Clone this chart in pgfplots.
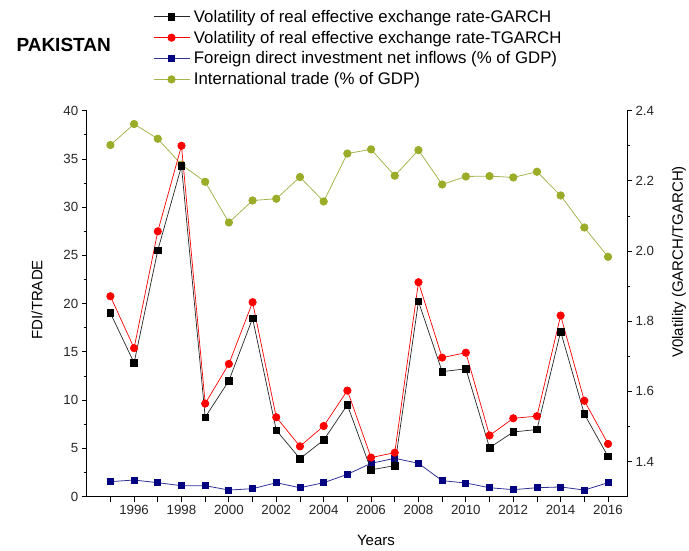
\documentclass[border=0pt]{standalone}
\usepackage{fontspec}
\setmainfont{Liberation Sans}
\usepackage{pgfplots}
\pgfplotsset{compat=1.18}
\definecolor{tgcol}{RGB}{255,0,0}
\definecolor{fdicol}{RGB}{0,0,128}
\definecolor{fdiline}{RGB}{50,50,150}
\definecolor{tradecol}{RGB}{154,172,40}
\definecolor{tradeline}{RGB}{165,182,80}
\begin{document}
\begin{tikzpicture}
\useasboundingbox (-86.7pt,-53.5pt) rectangle (602.3pt,496.5pt);
\pgfplotsset{
  common/.style={
    at={(0pt,0pt)}, anchor=south west,
    scale only axis, width=540.3pt, height=385.8pt,
    xmin=1994, xmax=2016.8,
    tick align=outside,
    major tick length=5pt, minor tick length=3pt,
    tick style={black, line width=0.8pt},
    axis line style={line width=1pt},
    ticklabel style={font=\fontsize{13.3}{15}\selectfont, text=black!85},
    /pgf/number format/assume math mode=true,
    label style={font=\fontsize{15}{18}\selectfont},
  }
}
\begin{axis}[common,
  axis x line*=bottom, axis y line*=left,
  ymin=0, ymax=40, ytick={0,5,...,40}, minor ytick={2.5,7.5,...,37.5},
  xtick={1995,...,2016},
  xticklabels={{},1996,{},1998,{},2000,{},2002,{},2004,{},2006,{},2008,{},2010,{},2012,{},2014,{},2016},
  xlabel={Years}, ylabel={FDI/TRADE},
  xlabel style={at={(axis description cs:0.5354,-0.1128)}, anchor=center},
  ylabel style={at={(axis description cs:-0.092,0.51)}, anchor=center},
]
\addplot[color=tradeline, line width=0.8pt, mark=*, mark size=3.7pt, mark options={fill=tradecol, draw=tradecol}] coordinates {
(1995,36.44) (1996,38.62) (1997,37.09) (1998,34.4) (1999,32.63) (2000,28.41) (2001,30.69) (2002,30.87) (2003,33.12) (2004,30.59) (2005,35.56) (2006,35.99) (2007,33.26) (2008,35.92) (2009,32.35) (2010,33.18) (2011,33.22) (2012,33.08) (2013,33.67) (2014,31.21) (2015,27.89) (2016,24.85)};
\addplot[color=fdiline, line width=0.8pt, mark=square*, mark size=3pt, mark options={fill=fdicol, draw=fdicol}] coordinates {
(1995,1.54) (1996,1.71) (1997,1.43) (1998,1.12) (1999,1.12) (2000,0.67) (2001,0.81) (2002,1.43) (2003,0.91) (2004,1.43) (2005,2.30) (2006,3.44) (2007,3.96) (2008,3.44) (2009,1.64) (2010,1.40) (2011,0.91) (2012,0.71) (2013,0.91) (2014,0.99) (2015,0.67) (2016,1.43)};
\end{axis}
\begin{axis}[common,
  axis x line=none, axis y line*=right,
  ymin=1.3, ymax=2.4, ytick={1.4,1.6,1.8,2.0,2.2,2.4}, minor ytick={1.5,1.7,1.9,2.1,2.3},
  yticklabel style={/pgf/number format/.cd, fixed, fixed zerofill, precision=1},
  ylabel={V0latility (GARCH/TGARCH)},
  ylabel style={at={(axis description cs:1.0962,0.608)}, anchor=center},
  legend style={at={(axis description cs:0.117,1.272)}, anchor=north west, draw=none, fill=none,
    font=\fontsize{16.8}{19}\selectfont, row sep=3.2pt, nodes={inner xsep=4pt}},
  legend cell align=left,
  legend image code/.code={\draw[mark repeat=2,mark phase=2] plot coordinates {(0pt,0pt) (18pt,0pt) (36pt,0pt)};},
]
\addplot[color=black!85, line width=0.7pt, mark=square*, mark size=3.3pt, mark options={fill=black, draw=black}] coordinates {
(1995,1.823) (1996,1.681) (1997,2.002) (1998,2.242) (1999,1.526) (2000,1.630) (2001,1.808) (2002,1.489) (2003,1.408) (2004,1.461) (2005,1.561) (2006,1.376) (2007,1.388) (2008,1.856) (2009,1.656) (2010,1.664) (2011,1.439) (2012,1.484) (2013,1.491) (2014,1.770) (2015,1.535) (2016,1.414)};
\addlegendentry{Volatility of real effective exchange rate-GARCH}
\addplot[color=tgcol, line width=0.7pt, mark=*, mark size=3.7pt, mark options={fill=tgcol}] coordinates {
(1995,1.871) (1996,1.723) (1997,2.056) (1998,2.300) (1999,1.565) (2000,1.678) (2001,1.854) (2002,1.526) (2003,1.443) (2004,1.501) (2005,1.602) (2006,1.411) (2007,1.425) (2008,1.911) (2009,1.696) (2010,1.710) (2011,1.474) (2012,1.523) (2013,1.529) (2014,1.816) (2015,1.573) (2016,1.450)};
\addlegendentry{Volatility of real effective exchange rate-TGARCH}
\addlegendimage{color=fdiline, line width=0.8pt, mark=square*, mark size=3pt, mark options={fill=fdicol, draw=fdicol}}
\addlegendentry{Foreign direct investment net inflows (\% of GDP)}
\addlegendimage{color=tradeline, line width=0.8pt, mark=*, mark size=3.7pt, mark options={fill=tradecol, draw=tradecol}}
\addlegendentry{International trade (\% of GDP)}
\end{axis}
\node[anchor=west, font=\bfseries\fontsize{19}{22}\selectfont] at (-73.7pt,451.5pt) {PAKISTAN};
\end{tikzpicture}
\end{document}
